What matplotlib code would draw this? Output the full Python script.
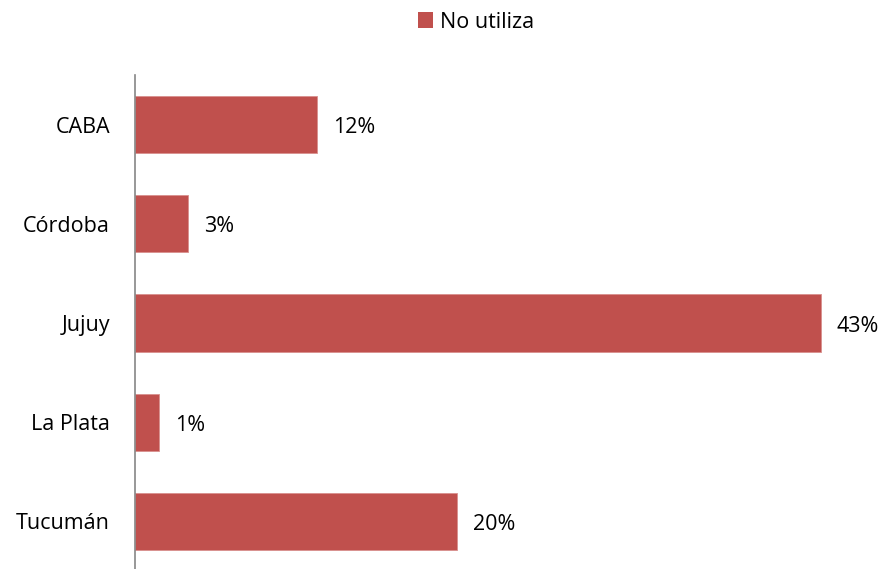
import matplotlib.pyplot as plt
from matplotlib.patches import Patch

plt.rcParams['font.family'] = ['Open Sans', 'DejaVu Sans']

categories = ["CABA", "Córdoba", "Jujuy", "La Plata", "Tucumán"]
values = [11.5, 3.35, 43.4, 1.5, 20.4]
value_labels = ["12%", "3%", "43%", "1%", "20%"]
series_name = "No utiliza"
bar_color = "#C0504D"

W, H = 885, 569
fig = plt.figure(figsize=(W / 100, H / 100), dpi=100)
# axes placed in pixel terms: left at x=135, top at y=75
ax = fig.add_axes([135 / W, (H - 571) / H, (15.8 * 46) / W, 496 / H])

ypos = range(len(categories))
ax.barh(ypos, values, height=0.575, color=bar_color, edgecolor="#D9908E", linewidth=0.6)

for y, v, lab in zip(ypos, values, value_labels):
    ax.annotate(lab, xy=(v, y), xytext=(16, -3), textcoords="offset pixels",
                va="center", ha="left", fontsize=15.5, color="black")

ax.set_xlim(0, 46)
ax.set_ylim(len(categories) - 0.5, -0.5)
ax.set_yticks(list(ypos))
ax.set_yticklabels(categories, fontsize=15.5, va="center_baseline")
ax.tick_params(axis="y", length=0, pad=18)
ax.set_xticks([])
for s in ["top", "right", "bottom"]:
    ax.spines[s].set_visible(False)
ax.spines["left"].set_color("#868686")
ax.spines["left"].set_linewidth(1.2)

fig.legend(handles=[Patch(facecolor=bar_color, label=series_name)],
           loc="center", bbox_to_anchor=(476 / W, 1 - 22 / H), frameon=False,
           fontsize=15.5, handlelength=0.7, handleheight=0.7, handletextpad=0.3)

fig.savefig("out.png", dpi=100)
